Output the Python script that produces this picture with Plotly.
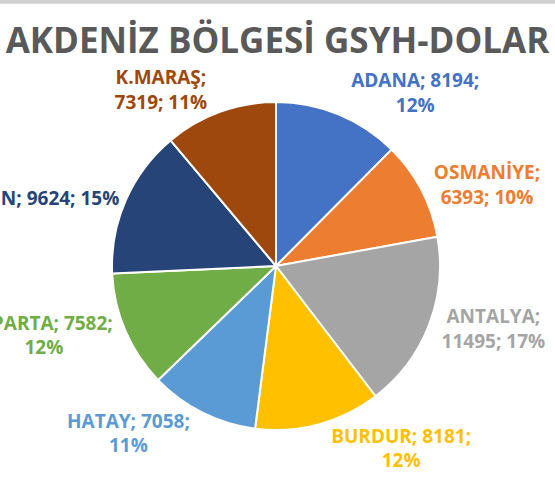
import plotly.graph_objects as go

labels = ["ADANA", "OSMANİYE", "ANTALYA", "BURDUR", "HATAY", "ISPARTA", "MERSİN", "K.MARAŞ"]
values = [8194, 6393, 11495, 8181, 7058, 7582, 9624, 7319]
colors = ["#4472C4", "#ED7D31", "#A5A5A5", "#FFC000", "#5B9BD5", "#70AD47", "#264478", "#9E480E"]
title_text = "AKDENİZ BÖLGESİ GSYH-DOLAR"

t_a = "<b>%{label}; %{value:d};<br>%{percent:.0%}</b>"
t_b = "<b>%{label};<br>%{value:d}; %{percent:.0%}</b>"
t_c = "<b>%{label}; %{value:d}; %{percent:.0%}</b>"
templates = [t_a, t_b, t_b, t_a, t_a, t_a, t_c, t_b]

fig = go.Figure(go.Pie(
    labels=labels,
    values=values,
    sort=False,
    direction="clockwise",
    rotation=0,
    automargin=False,
    marker=dict(colors=colors, line=dict(color="white", width=2)),
    texttemplate=templates,
    textposition="outside",
    outsidetextfont=dict(family="Open Sans", size=19, color=colors),
    textfont=dict(family="Open Sans", size=19, color=colors),
    hoverinfo="label+value+percent",
    showlegend=False,
    domain=dict(x=[0.2018, 0.7928], y=[0.1042, 0.7875]),
))

fig.update_layout(
    width=555, height=480,
    margin=dict(l=0, r=0, t=0, b=0, autoexpand=False),
    paper_bgcolor="white",
    plot_bgcolor="white",
    title=dict(text="<b>" + title_text + "</b>", x=0.5, xanchor="center",
               y=1 - 41 / 480, yanchor="middle", automargin=False,
               font=dict(family="Open Sans", size=35, color="#595959")),
    font=dict(family="Open Sans"),
    shapes=[dict(type="rect", xref="paper", yref="paper", x0=0, x1=1, y0=0.992, y1=1.0,
                 fillcolor="#D0D0D0", line=dict(width=0), layer="above")],
)

fig.write_html("out.html", config={"displayModeBar": False},
               post_script="document.body.style.margin='0';")
